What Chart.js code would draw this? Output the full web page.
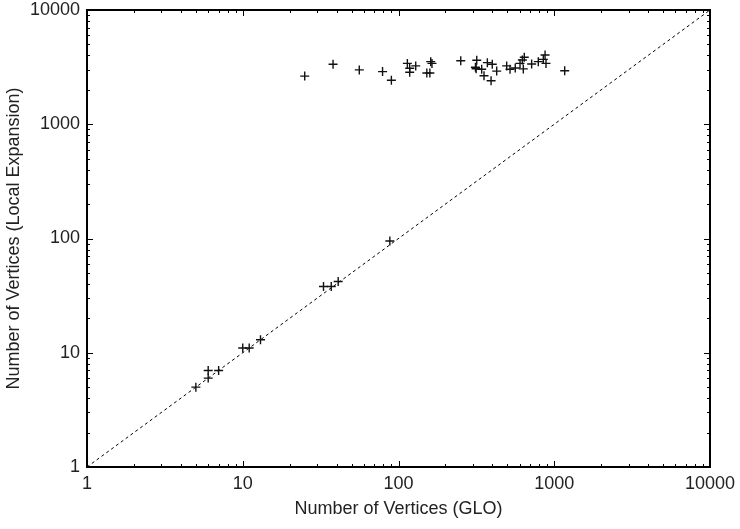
<!DOCTYPE html>
<html>
<head>
<meta charset="utf-8">
<script src="https://cdn.jsdelivr.net/npm/chart.js@4.4.1/dist/chart.umd.min.js"></script>
<style>
  body { margin: 0; background: #fff; }
  #wrap { width: 740px; height: 529px; }
</style>
</head>
<body>
<div id="wrap"><canvas id="chart"></canvas></div>
<script>
// vertices found by GLO vs. by local expansion
const gloVertices = [5, 6, 6, 7, 10, 11, 13, 33, 37, 41, 88,
  25, 38, 56, 79, 90, 114, 118, 118, 129, 161, 164, 152, 159,
  251, 318, 312, 315, 342, 372, 400, 354, 393, 427, 495, 520,
  562, 603, 624, 642, 633, 716, 790, 873, 851, 885, 1167];
const localVertices = [5, 6, 7, 7, 11, 11, 13, 38, 38, 42, 95,
  2640, 3350, 2990, 2890, 2430, 3410, 3090, 2850, 3240, 3530, 3410, 2810, 2810,
  3600, 3630, 3150, 3060, 3030, 3460, 3350, 2660, 2400, 2920, 3240, 3030,
  3110, 3410, 3650, 3860, 3050, 3370, 3530, 4040, 3700, 3410, 2940];
const diagonal = [1, 10000];
const tickValues = [1, 10, 100, 1000, 10000];

const font = { family: "'Liberation Sans', Arial, sans-serif", size: 18 };

// gnuplot-like frame with inward ticks on every side
const frameTicks = {
  id: "frameTicks",
  afterDatasetsDraw(chart) {
    const { ctx, chartArea: a, scales: { x, y } } = chart;
    ctx.save();
    ctx.strokeStyle = "#000";
    ctx.lineWidth = 1;
    ctx.beginPath();
    for (let d = 1; d < 10000; d *= 10) {
      for (let m = 1; m <= 10; m++) {
        const v = d * m;
        const len = (m === 1 || m === 10) ? 6 : 3;
        const px = Math.round(x.getPixelForValue(v)) + 0.5;
        const py = Math.round(y.getPixelForValue(v)) + 0.5;
        ctx.moveTo(px, a.bottom); ctx.lineTo(px, a.bottom - len);
        ctx.moveTo(px, a.top); ctx.lineTo(px, a.top + len);
        ctx.moveTo(a.left, py); ctx.lineTo(a.left + len, py);
        ctx.moveTo(a.right, py); ctx.lineTo(a.right - len, py);
      }
    }
    ctx.stroke();
    ctx.lineWidth = 2;
    ctx.strokeRect(a.left, a.top, a.right - a.left, a.bottom - a.top);
    ctx.restore();
  }
};

const ctx = document.getElementById("chart").getContext("2d");

new Chart(ctx, {
  type: "scatter",
  data: {
    datasets: [
      {
        data: gloVertices.map((v, i) => ({ x: v, y: localVertices[i] })),
        pointStyle: "cross",
        pointRadius: 4.5,
        pointHoverRadius: 4.5,
        borderColor: "#111",
        borderWidth: 1.4,
        backgroundColor: "#111",
      },
      {
        type: "line",
        data: diagonal.map(v => ({ x: v, y: v })),
        borderColor: "#000",
        borderWidth: 1,
        borderDash: [3, 3],
        pointRadius: 0,
        fill: false,
      },
    ],
  },
  options: {
    responsive: true,
    maintainAspectRatio: false,
    animation: false,
    devicePixelRatio: 1,
    layout: { padding: { top: 10, right: 30, left: 0, bottom: 0 } },
    plugins: { legend: { display: false }, tooltip: { enabled: false } },
    scales: {
      x: {
        type: "logarithmic",
        min: 1,
        max: 10000,
        afterBuildTicks: s => { s.ticks = tickValues.map(v => ({ value: v })); },
        afterFit: s => { s.height = 62; s.paddingLeft = 0; s.paddingRight = 0; },
        ticks: { color: "#222", font, padding: 6, maxRotation: 0, callback: v => String(v) },
        grid: { display: false, drawTicks: false },
        border: { display: false },
        title: { display: true, text: "Number of Vertices (GLO)", color: "#222", font, padding: { top: 1, bottom: 9 } },
      },
      y: {
        type: "logarithmic",
        min: 1,
        max: 10000,
        afterBuildTicks: s => { s.ticks = tickValues.map(v => ({ value: v })); },
        afterFit: s => { s.width = 87; s.paddingTop = 0; s.paddingBottom = 0; },
        ticks: { color: "#222", font, padding: 7, callback: v => String(v) },
        grid: { display: false, drawTicks: false },
        border: { display: false },
        title: { display: true, text: "Number of Vertices (Local Expansion)", color: "#222", font, padding: { top: 3, bottom: 2 } },
      },
    },
  },
  plugins: [frameTicks],
});
</script>
</body>
</html>
